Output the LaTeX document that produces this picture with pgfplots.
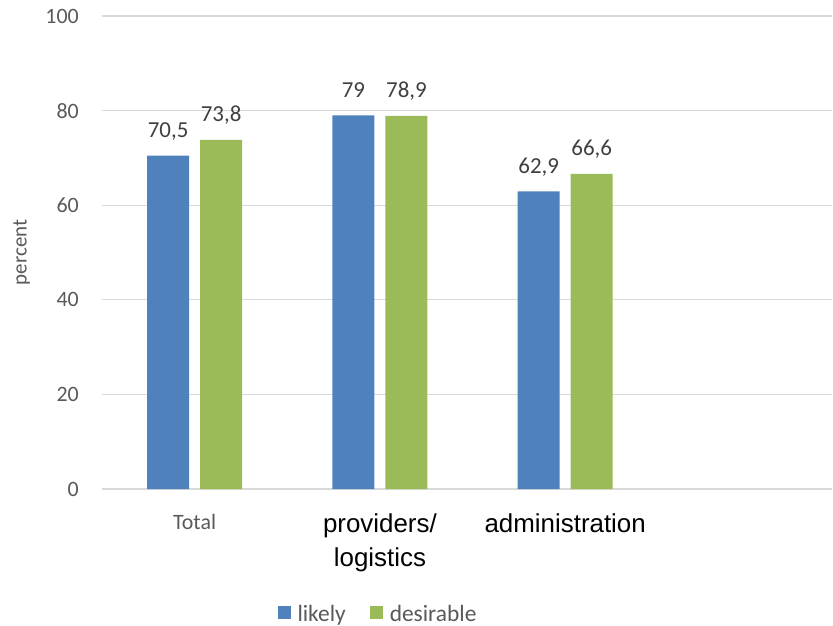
\documentclass[border=0pt]{standalone}
\usepackage{pgfplots}
\pgfplotsset{compat=1.18}
\usepackage{fontspec}
\setmainfont{Carlito}
\newfontfamily\carlito{Carlito}
\newfontfamily\arial{Liberation Sans}
\definecolor{cblue}{HTML}{4F81BD}
\definecolor{cgreen}{HTML}{9BBB59}
\definecolor{tickc}{HTML}{595959}
\definecolor{labc}{HTML}{404040}
\definecolor{gridc}{HTML}{D9D9D9}
\begin{document}
\begin{tikzpicture}
\path[use as bounding box] (-102bp,-137bp) rectangle (731bp,489bp);
\begin{axis}[
  at={(0,0)}, anchor=south west,
  scale only axis, width=730bp, height=473bp,
  enlargelimits=false, clip=false,
  ymin=0, ymax=100, ytick={0,20,...,100},
  xmin=-0.5, xmax=3.44,
  xtick={0,1,2,3},
  xticklabels={{\carlito\fontsize{22}{26}\selectfont\color{tickc}Total}, {providers/\\logistics}, {administration}, {}},
  ybar=11bp, bar width=42bp,
  axis line style={draw=none},
  major tick length=0pt,
  ymajorgrids, grid style={color=gridc, line width=1.3bp},
  yticklabel style={font=\fontsize{22}{26}\selectfont, text=tickc, inner sep=0pt, anchor=east, xshift=-23bp},
  xticklabel style={font=\arial\fontsize{26}{34}\selectfont, text=black, anchor=north, inner sep=0pt, yshift=-25bp, align=center},
  ylabel={percent},
  ylabel style={at={(axis description cs:-0.11,0.5)}, anchor=center, font=\fontsize{21}{25}\selectfont, text=tickc},
  nodes near coords,
  every node near coord/.append style={font=\fontsize{23}{27}\selectfont, text=labc, anchor=base, yshift=18bp, inner sep=0pt},
  /pgf/number format/use comma,
  /pgf/number format/fixed,
  /pgf/number format/precision=1,
  /pgf/number format/assume math mode=true,
  legend columns=2,
  legend style={at={(axis description cs:0.3815,-0.2635)}, anchor=center, draw=none,
    font=\fontsize{23.5}{27}\selectfont, text=tickc,
    nodes={inner xsep=7bp, inner ysep=1bp},
    /tikz/every even column/.append style={column sep=17bp}},
  legend image code/.code={\fill[#1] (0bp,-5bp) rectangle (13bp,8bp);},
]
\addplot[fill=cblue, draw=none] coordinates {(0,70.5) (1,79) (2,62.9)};
\addplot[fill=cgreen, draw=none] coordinates {(0,73.8) (1,78.9) (2,66.6)};
\legend{likely, desirable}
\end{axis}
\end{tikzpicture}
\end{document}
